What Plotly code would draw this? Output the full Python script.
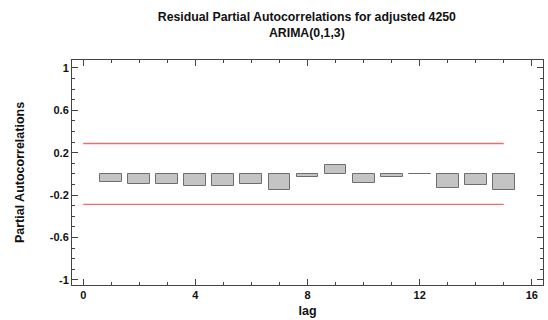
import plotly.graph_objects as go

lags = list(range(1, 16))
pacf = [-0.08, -0.095, -0.093, -0.118, -0.118, -0.096, -0.15, -0.025,
        0.086, -0.09, -0.025, -0.005, -0.133, -0.108, -0.15]
limit_x = [0, 15]
upper_limit = [0.287, 0.287]
lower_limit = [-0.287, -0.287]
x_ticks = [0, 4, 8, 12, 16]
y_ticks = [-1, -0.6, -0.2, 0.2, 0.6, 1]
y_tick_text = ["-1", "-0.6", "-0.2", "0.2", "0.6", "1"]

font = "Liberation Sans, Arial, sans-serif"

fig = go.Figure()
fig.add_trace(go.Bar(
    x=lags, y=pacf, width=0.78,
    marker=dict(color="#c4c4c4", line=dict(color="#6e6e6e", width=1)),
    showlegend=False,
))
for lim in (upper_limit, lower_limit):
    fig.add_trace(go.Scatter(x=limit_x, y=lim, mode="lines",
                             line=dict(color="#f06c6c", width=1.4), showlegend=False))

axis_common = dict(
    showline=True, linecolor="#444", linewidth=1, mirror="ticks",
    ticks="inside", ticklen=6, tickcolor="#444", tickwidth=1,
    showgrid=False, zeroline=False, automargin=False,
    tickfont=dict(family=font, size=11, color="#111"),
)

fig.update_xaxes(
    range=[-0.4, 16.4], tickvals=x_ticks, ticktext=[f"<b>{t}</b>" for t in x_ticks],
    minor=dict(dtick=1, ticks="inside", ticklen=3, tickcolor="#444", showgrid=False),
    title=dict(text="<b>lag</b>", font=dict(family=font, size=12.5, color="#111"), standoff=6),
    **axis_common,
)
fig.update_yaxes(
    range=[-1.048, 1.075], tickvals=y_ticks, ticktext=[f"<b>{t}</b>" for t in y_tick_text],
    minor=dict(dtick=0.1, tick0=0, ticks="inside", ticklen=3, tickcolor="#444", showgrid=False),
    title=dict(text="<b>Partial Autocorrelations</b>", font=dict(family=font, size=12.5, color="#111"), standoff=22),
    **axis_common,
)

fig.update_layout(
    width=548, height=320,
    margin=dict(l=72, r=5, t=60, b=35, autoexpand=False),
    plot_bgcolor="white", paper_bgcolor="white",
    bargap=0,
    title=dict(
        text="<b>Residual Partial Autocorrelations for adjusted 4250</b><br><b>ARIMA(0,1,3)</b>",
        x=0.56, xanchor="center", y=0.935, yanchor="top",
        font=dict(family=font, size=12.3, color="#111"),
    ),
)

fig.write_html(
    "out.html",
    config={"displayModeBar": False, "responsive": False},
    post_script="document.body.style.margin='0';document.body.style.overflow='hidden';",
)
